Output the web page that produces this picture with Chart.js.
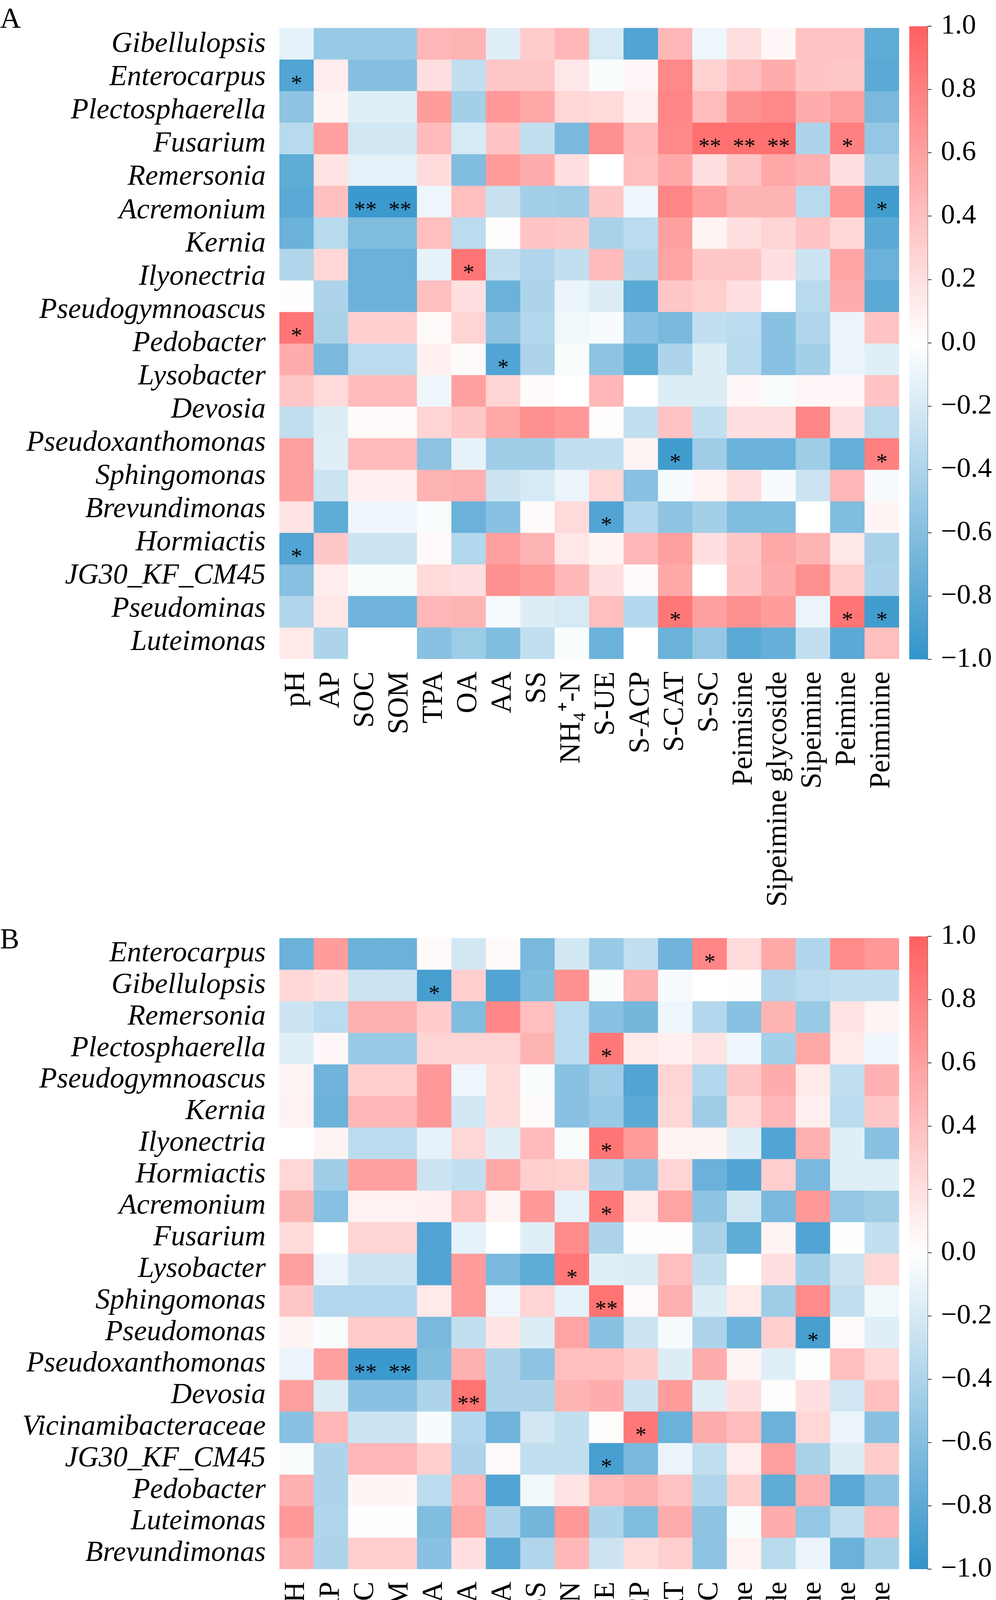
<!DOCTYPE html>
<html>
<head>
<meta charset="utf-8">
<script src="https://cdn.jsdelivr.net/npm/chart.js@4.4.1/dist/chart.umd.min.js"></script>
<style>
    html, body { margin: 0; padding: 0; background: #fff; }
    #page { position: relative; width: 2549px; height: 4653px; }
    .box { position: absolute; }
    .tag { position: absolute; left: 0; font-family: 'Liberation Serif'; font-size: 74px; line-height: 74px; color: #000; }
</style>
</head>
<body>
<div id="page">
    <div class="tag" style="top: 9px;">A</div>
    <div class="tag" style="top: 2366px;">B</div>
    <div class="box" style="left: 0; top: 0; width: 2549px; height: 2330px;"><canvas id="heatA"></canvas></div>
    <div class="box" style="left: 2300px; top: 0; width: 249px; height: 1760px;"><canvas id="barA"></canvas></div>
    <div class="box" style="left: 0; top: 2330px; width: 2549px; height: 2323px;"><canvas id="heatB"></canvas></div>
    <div class="box" style="left: 2300px; top: 2330px; width: 249px; height: 1760px;"><canvas id="barB"></canvas></div>
</div>

<script>
// Soil / alkaloid factors (columns, same for both panels)
const factors = ['pH', 'AP', 'SOC', 'SOM', 'TPA', 'OA', 'AA', 'SS', 'NH₄⁺-N', 'S-UE', 'S-ACP', 'S-CAT', 'S-SC',
    'Peimisine', 'Sipeimine glycoside', 'Sipeimine', 'Peimine', 'Peiminine'];

// Panel A: 19 labels printed, 20 rows of cells
const aRows = ['Gibellulopsis', 'Enterocarpus', 'Plectosphaerella', 'Fusarium', 'Remersonia', 'Acremonium', 'Kernia',
    'Ilyonectria', 'Pseudogymnoascus', 'Pedobacter', 'Lysobacter', 'Devosia', 'Pseudoxanthomonas', 'Sphingomonas',
    'Brevundimonas', 'Hormiactis', 'JG30_KF_CM45', 'Pseudominas', 'Luteimonas'];

const aValues = [
    [-0.12, -0.5, -0.5, -0.5, 0.45, 0.47, -0.15, 0.32, 0.45, -0.2, -0.85, 0.45, -0.08, 0.2, 0.05, 0.38, 0.38, -0.78],
    [-0.85, 0.12, -0.6, -0.6, 0.2, -0.3, 0.35, 0.35, 0.15, -0.03, 0.05, 0.75, 0.28, 0.42, 0.52, 0.37, 0.35, -0.8],
    [-0.55, 0.07, -0.15, -0.15, 0.62, -0.45, 0.65, 0.55, 0.25, 0.23, 0.1, 0.76, 0.42, 0.7, 0.75, 0.52, 0.6, -0.65],
    [-0.35, 0.6, -0.22, -0.22, 0.43, -0.2, 0.37, -0.3, -0.65, 0.7, 0.43, 0.75, 0.9, 0.9, 0.9, -0.4, 0.8, -0.52],
    [-0.78, 0.17, -0.13, -0.13, 0.22, -0.62, 0.63, 0.52, 0.2, 0.0, 0.4, 0.55, 0.2, 0.37, 0.55, 0.5, 0.2, -0.42],
    [-0.8, 0.4, -0.95, -0.95, -0.08, 0.4, -0.27, -0.45, -0.47, 0.35, -0.08, 0.76, 0.6, 0.47, 0.47, -0.35, 0.65, -0.92],
    [-0.72, -0.35, -0.62, -0.62, 0.4, -0.33, 0.02, 0.38, 0.35, -0.42, -0.33, 0.6, 0.07, 0.2, 0.27, 0.38, 0.25, -0.8],
    [-0.38, 0.25, -0.72, -0.72, -0.12, 0.87, -0.3, -0.38, -0.3, 0.43, -0.38, 0.57, 0.35, 0.35, 0.2, -0.25, 0.57, -0.72],
    [0.01, -0.4, -0.72, -0.72, 0.4, 0.2, -0.72, -0.4, -0.1, -0.17, -0.8, 0.35, 0.3, 0.2, 0.0, -0.35, 0.52, -0.8],
    [0.87, -0.42, 0.3, 0.3, 0.03, 0.27, -0.55, -0.37, -0.07, -0.04, -0.58, -0.65, -0.3, -0.33, -0.58, -0.38, -0.1, 0.38],
    [0.52, -0.65, -0.33, -0.33, 0.1, 0.03, -0.85, -0.4, -0.03, -0.55, -0.78, -0.4, -0.17, -0.35, -0.58, -0.45, -0.1, -0.15],
    [0.35, 0.23, 0.43, 0.43, -0.08, 0.6, 0.27, 0.03, 0.0, 0.45, 0.0, -0.17, -0.17, 0.05, -0.03, 0.05, 0.05, 0.38],
    [-0.3, -0.17, 0.03, 0.03, 0.27, 0.35, 0.55, 0.7, 0.65, 0.02, -0.3, 0.38, -0.3, 0.2, 0.2, 0.76, 0.2, -0.35],
    [0.6, -0.15, 0.43, 0.43, -0.55, -0.12, -0.47, -0.47, -0.3, -0.3, 0.07, -0.92, -0.47, -0.72, -0.72, -0.47, -0.75, 0.8],
    [0.6, -0.25, 0.1, 0.1, 0.47, 0.5, -0.25, -0.2, -0.1, 0.25, -0.58, -0.04, 0.08, 0.2, -0.04, -0.25, 0.45, -0.04],
    [0.17, -0.78, -0.08, -0.08, -0.03, -0.72, -0.58, 0.03, 0.23, -0.85, -0.37, -0.55, -0.45, -0.62, -0.62, 0.0, -0.62, 0.06],
    [-0.85, 0.35, -0.25, -0.25, 0.03, -0.37, 0.6, 0.47, 0.15, 0.07, 0.45, 0.6, 0.2, 0.35, 0.55, 0.47, 0.15, -0.42],
    [-0.58, 0.12, -0.03, -0.03, 0.23, 0.2, 0.7, 0.62, 0.45, 0.2, 0.03, 0.55, 0.0, 0.38, 0.52, 0.7, 0.3, -0.4],
    [-0.38, 0.15, -0.7, -0.7, 0.45, 0.47, -0.04, -0.17, -0.2, 0.4, -0.37, 0.85, 0.6, 0.7, 0.62, -0.1, 0.87, -0.92],
    [0.14, -0.4, 0.0, 0.0, -0.58, -0.48, -0.62, -0.3, -0.03, -0.72, 0.0, -0.72, -0.52, -0.8, -0.75, -0.3, -0.8, 0.4]
];

// [row, column, mark]
const aStars = [
    [1, 0, '*'], [3, 12, '**'], [3, 13, '**'], [3, 14, '**'], [3, 16, '*'],
    [5, 2, '**'], [5, 3, '**'], [5, 17, '*'], [7, 5, '*'], [9, 0, '*'], [10, 6, '*'],
    [13, 11, '*'], [13, 17, '*'], [15, 9, '*'], [16, 0, '*'],
    [18, 11, '*'], [18, 16, '*'], [18, 17, '*']
];

// Panel B
const bRows = ['Enterocarpus', 'Gibellulopsis', 'Remersonia', 'Plectosphaerella', 'Pseudogymnoascus', 'Kernia',
    'Ilyonectria', 'Hormiactis', 'Acremonium', 'Fusarium', 'Lysobacter', 'Sphingomonas', 'Pseudomonas',
    'Pseudoxanthomonas', 'Devosia', 'Vicinamibacteraceae', 'JG30_KF_CM45', 'Pedobacter', 'Luteimonas', 'Brevundimonas'];

const bValues = [
    [-0.72, 0.62, -0.72, -0.72, 0.04, -0.22, 0.03, -0.65, -0.22, -0.5, -0.3, -0.7, 0.76, 0.23, 0.55, -0.38, 0.73, 0.65],
    [0.25, 0.2, -0.25, -0.25, -0.9, 0.3, -0.85, -0.62, 0.7, -0.03, 0.5, -0.04, 0.0, 0.01, -0.38, -0.33, -0.3, -0.3],
    [-0.25, -0.33, 0.5, 0.5, 0.33, -0.62, 0.76, 0.4, -0.33, -0.58, -0.68, -0.08, -0.37, -0.58, 0.47, -0.5, 0.17, 0.07],
    [-0.15, 0.05, -0.5, -0.5, 0.27, 0.27, 0.27, 0.47, -0.33, 0.85, 0.14, 0.1, 0.17, -0.08, -0.45, 0.55, 0.14, -0.08],
    [0.07, -0.7, 0.3, 0.3, 0.65, -0.08, 0.22, -0.03, -0.58, -0.47, -0.85, 0.27, -0.37, 0.35, 0.52, 0.14, -0.3, 0.5],
    [0.08, -0.72, 0.45, 0.45, 0.65, -0.22, 0.22, 0.03, -0.58, -0.5, -0.8, 0.25, -0.47, 0.25, 0.45, 0.1, -0.33, 0.35],
    [0.0, 0.07, -0.33, -0.33, -0.12, 0.25, -0.15, 0.43, -0.03, 0.87, 0.62, 0.07, 0.07, -0.15, -0.85, 0.5, -0.15, -0.58],
    [0.25, -0.47, 0.6, 0.6, -0.25, -0.3, 0.55, 0.3, 0.28, -0.4, -0.55, 0.27, -0.72, -0.85, 0.3, -0.65, -0.15, -0.15],
    [0.47, -0.58, 0.08, 0.08, 0.1, 0.4, 0.07, 0.65, -0.12, 0.85, 0.14, 0.57, -0.55, -0.22, -0.65, 0.65, -0.52, -0.47],
    [0.22, 0.0, 0.27, 0.27, -0.85, -0.12, 0.0, -0.15, 0.73, -0.4, 0.02, 0.02, -0.42, -0.78, 0.07, -0.85, -0.01, -0.3],
    [0.6, -0.1, -0.25, -0.25, -0.85, 0.63, -0.65, -0.78, 0.85, -0.15, -0.17, 0.4, -0.3, 0.0, 0.2, -0.45, -0.25, 0.25],
    [0.35, -0.37, -0.37, -0.37, 0.14, 0.63, -0.08, 0.27, -0.12, 0.88, 0.04, 0.5, -0.17, 0.14, -0.47, 0.73, -0.3, -0.07],
    [0.07, -0.03, 0.33, 0.33, -0.65, -0.3, 0.17, -0.17, 0.57, -0.58, -0.25, -0.04, -0.4, -0.72, 0.3, -0.9, 0.03, -0.15],
    [-0.1, 0.6, -0.95, -0.95, -0.62, 0.5, -0.4, -0.55, 0.4, 0.4, 0.32, -0.17, 0.52, 0.07, -0.15, -0.01, 0.4, 0.25],
    [0.6, -0.17, -0.58, -0.58, -0.4, 0.88, -0.4, -0.4, 0.47, 0.52, -0.25, 0.62, -0.15, 0.2, 0.02, 0.2, -0.22, 0.4],
    [-0.58, 0.45, -0.25, -0.25, -0.04, -0.37, -0.7, -0.22, -0.3, 0.02, 0.85, -0.72, 0.52, 0.42, -0.72, 0.25, -0.1, -0.58],
    [-0.03, -0.4, 0.45, 0.45, 0.3, -0.4, 0.04, -0.3, -0.3, -0.9, -0.65, -0.1, -0.3, 0.12, 0.6, -0.42, -0.17, 0.32],
    [0.5, -0.4, 0.06, 0.06, -0.33, 0.45, -0.85, -0.07, 0.17, 0.43, 0.5, 0.38, -0.38, 0.3, -0.78, 0.5, -0.8, -0.55],
    [0.65, -0.38, 0.01, 0.01, -0.62, 0.55, -0.4, -0.68, 0.65, -0.4, -0.62, 0.52, -0.55, -0.03, 0.52, -0.52, -0.3, 0.45],
    [0.5, -0.4, 0.3, 0.3, -0.58, 0.2, -0.8, -0.38, 0.45, -0.25, 0.22, 0.3, -0.55, 0.08, -0.35, -0.1, -0.72, -0.42]
];

const bStars = [
    [0, 12, '*'], [1, 4, '*'], [3, 9, '*'], [6, 9, '*'], [8, 9, '*'], [10, 8, '*'], [11, 9, '**'],
    [12, 15, '*'], [13, 2, '**'], [13, 3, '**'], [14, 5, '**'], [15, 10, '*'], [16, 9, '*']
];

// colour bar range and ticks
const barRange = [-1, 1];
const barStep = 0.2;

const FONT = 'Liberation Serif';
Chart.defaults.font.family = FONT;
Chart.defaults.color = '#000';

// blue - white - red, linear in RGB
const BLUE = [50, 148, 203];
const RED = [255, 96, 96];
function cmap(v) {
    const end = v < 0 ? BLUE : RED;
    const t = Math.min(1, Math.abs(v));
    const c = end.map(e => Math.round(255 + (e - 255) * t));
    return `rgb(${c[0]}, ${c[1]}, ${c[2]})`;
}

// asterisks on top of the cells
const starPlugin = {
    id: 'stars',
    afterDatasetsDraw(chart, args, opts) {
        const ctx = chart.ctx;
        ctx.save();
        ctx.font = `58px "${FONT}"`;
        ctx.fillStyle = '#000';
        ctx.textAlign = 'center';
        ctx.textBaseline = 'alphabetic';
        opts.marks.forEach(([r, c, s]) => {
            const cell = chart.getDatasetMeta(r).data[c];
            ctx.fillText(s, cell.x, (cell.y + cell.base) / 2 + 39);
        });
        ctx.restore();
    }
};

function heatmap(id, rows, values, stars, topPad, axisHeight) {
    const n = values.length;
    // label slots spread evenly over the full height
    const slots = rows.map((_, i) => (i + 0.5) * n / rows.length);
    new Chart(document.getElementById(id), {
        type: 'bar',
        data: {
            labels: factors,
            datasets: values.map(row => ({
                data: row.map(() => 1),
                backgroundColor: row.map(cmap),
                borderWidth: 0,
                barPercentage: 1,
                categoryPercentage: 1
            }))
        },
        plugins: [starPlugin],
        options: {
            responsive: true,
            maintainAspectRatio: false,
            animation: false,
            devicePixelRatio: 1,
            layout: { padding: { top: topPad, right: 248, left: 0, bottom: 0 } },
            plugins: {
                legend: { display: false },
                tooltip: { enabled: false },
                stars: { marks: stars }
            },
            scales: {
                x: {
                    stacked: true,
                    grid: { display: false },
                    border: { display: false },
                    ticks: {
                        autoSkip: false,
                        minRotation: 90,
                        maxRotation: 90,
                        padding: 24,
                        color: '#000',
                        font: { family: FONT, size: 74 }
                    },
                    afterFit: s => { s.height = axisHeight; }
                },
                y: {
                    stacked: true,
                    reverse: true,
                    min: 0,
                    max: n,
                    grid: { display: false },
                    border: { display: false },
                    afterBuildTicks: s => { s.ticks = slots.map(v => ({ value: v })); },
                    ticks: {
                        autoSkip: false,
                        padding: 27,
                        color: '#000',
                        font: { family: FONT, size: 74, style: 'italic' },
                        callback: (v, i) => rows[i]
                    },
                    afterFit: s => { s.width = 715; }
                }
            }
        }
    });
}

function barFill(chart) {
    const area = chart.chartArea;
    if (!area) return cmap(0);
    const g = chart.ctx.createLinearGradient(0, area.bottom, 0, area.top);
    g.addColorStop(0, cmap(-1));
    g.addColorStop(0.5, cmap(0));
    g.addColorStop(1, cmap(1));
    return g;
}

function colorBar(id, topPad) {
    new Chart(document.getElementById(id), {
        type: 'bar',
        data: {
            labels: [''],
            datasets: [{
                data: [barRange],
                backgroundColor: c => barFill(c.chart),
                borderWidth: 0,
                barPercentage: 1,
                categoryPercentage: 1
            }]
        },
        options: {
            responsive: true,
            maintainAspectRatio: false,
            animation: false,
            devicePixelRatio: 1,
            layout: { padding: { top: topPad, bottom: 1760 - topPad - 1647, left: 27, right: 0 } },
            plugins: { legend: { display: false }, tooltip: { enabled: false } },
            scales: {
                x: { display: false },
                y: {
                    position: 'right',
                    min: barRange[0],
                    max: barRange[1],
                    grid: { display: true, drawOnChartArea: false, drawTicks: true, tickLength: 10, color: '#333', lineWidth: 2 },
                    border: { display: true, color: '#666', width: 2 },
                    ticks: {
                        stepSize: barStep,
                        padding: 24,
                        color: '#000',
                        font: { family: FONT, size: 72 },
                        callback: v => (Math.abs(v) < 1e-9 ? 0 : v).toFixed(1).replace('-', '\u2212')
                    },
                    afterFit: s => { s.width = 175; }
                }
            }
        }
    });
}

heatmap('heatA', aRows, aValues, aStars, 41, 643);
colorBar('barA', 41);
heatmap('heatB', bRows, bValues, bStars, 40, 636);
colorBar('barB', 40);
</script>
</body>
</html>
